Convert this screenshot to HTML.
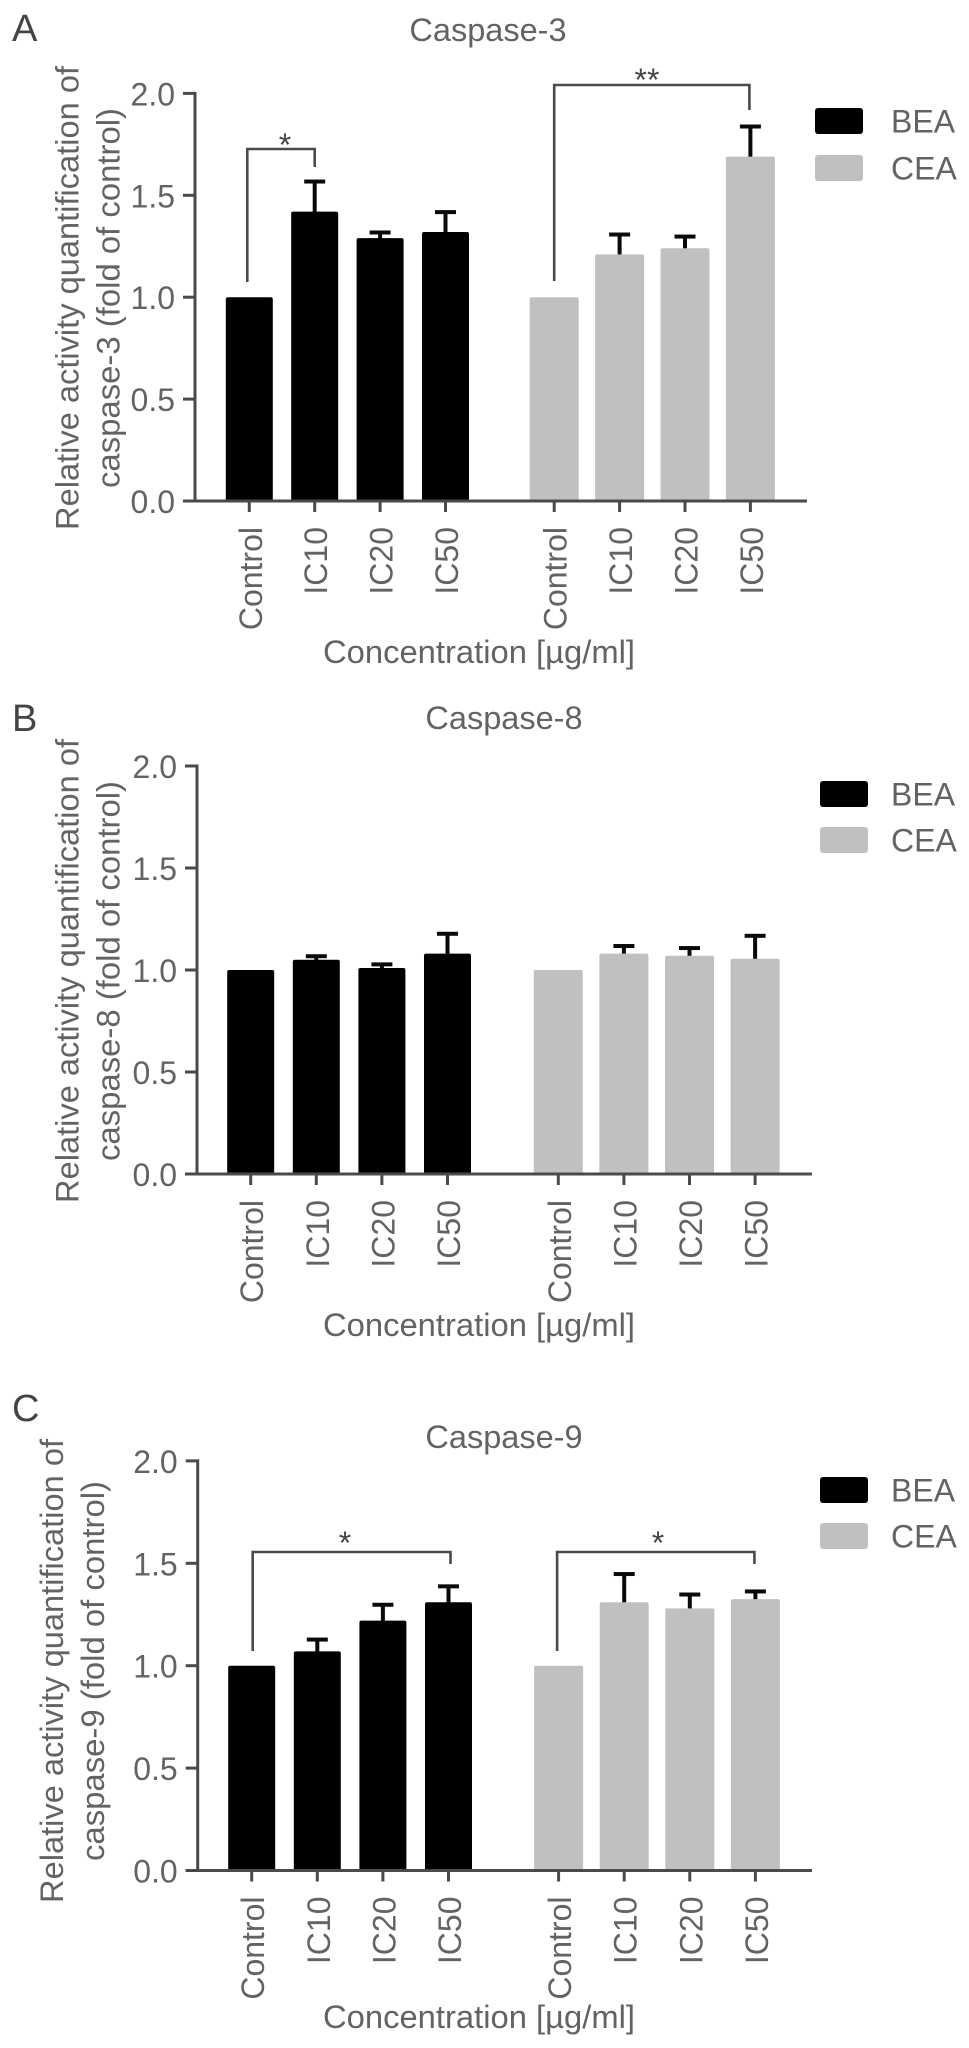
<!DOCTYPE html>
<html lang="en">
<head>
<meta charset="utf-8">
<title>Relative caspase activity in BEA and CEA treated cells</title>
<style>
html,body{margin:0;padding:0;background:#fff;}
body{width:969px;height:2048px;overflow:hidden;}
svg{display:block;}
text{font-family:"Liberation Sans",sans-serif;fill:#636363;}
</style>
</head>
<body>
<svg id="figure" width="969" height="2048" viewBox="0 0 969 2048" xmlns="http://www.w3.org/2000/svg"></svg>
<script>
// ---- chart data ----
const categories = ["Control", "IC10", "IC20", "IC50"];
const seriesNames = ["BEA", "CEA"];
const yTickValues = [0, 0.5, 1, 1.5, 2];
const yTickLabels = ["0.0", "0.5", "1.0", "1.5", "2.0"];

const caspase3Bea = [1.0, 1.42, 1.29, 1.32];
const caspase3BeaErr = [0, 0.15, 0.03, 0.10];
const caspase3Cea = [1.0, 1.21, 1.24, 1.69];
const caspase3CeaErr = [0, 0.10, 0.06, 0.15];

const caspase8Bea = [1.0, 1.05, 1.01, 1.08];
const caspase8BeaErr = [0, 0.02, 0.02, 0.10];
const caspase8Cea = [1.0, 1.08, 1.07, 1.055];
const caspase8CeaErr = [0, 0.04, 0.04, 0.115];

const caspase9Bea = [1.0, 1.07, 1.22, 1.31];
const caspase9BeaErr = [0, 0.06, 0.08, 0.08];
const caspase9Cea = [1.0, 1.31, 1.28, 1.325];
const caspase9CeaErr = [0, 0.14, 0.07, 0.04];

// ---- panel layout ----
const panels = [
  {key:"a", letter:"A", letterY:41, title:"Caspase-3", titleX:488, titleY:41,
   line1:"Relative activity quantification of", line2:"caspase-3 (fold of control)",
   y1:78.5, y2:119.5, yc:298, len1:464, len2:380,
   axisX:195, zeroY:501, unit:203.8, first:249.3, step:65.4, second:554.2, axisEnd:807,
   xTitleY:663, legendX:815, legendY1:108, legendY2:155,
   bea:caspase3Bea, beaErr:caspase3BeaErr, cea:caspase3Cea, ceaErr:caspase3CeaErr,
   brackets:[
     {g:0, from:0, to:1, dx1:-2, dx2:0, top:149, fromEnd:282, toEnd:167, stars:"*", starX:285, starBase:156},
     {g:1, from:0, to:3, dx1:0, dx2:-1, top:85, fromEnd:281, toEnd:110, stars:"**", starX:647, starBase:91}
   ]},
  {key:"b", letter:"B", letterY:731, title:"Caspase-8", titleX:504, titleY:729,
   line1:"Relative activity quantification of", line2:"caspase-8 (fold of control)",
   y1:78.5, y2:119.5, yc:971, len1:464, len2:380,
   axisX:197, zeroY:1174, unit:204, first:250.7, step:65.6, second:558.3, axisEnd:812,
   xTitleY:1336, legendX:820, legendY1:781, legendY2:827,
   bea:caspase8Bea, beaErr:caspase8BeaErr, cea:caspase8Cea, ceaErr:caspase8CeaErr,
   brackets:[]},
  {key:"c", letter:"C", letterY:1421, title:"Caspase-9", titleX:504, titleY:1448,
   line1:"Relative activity quantification of", line2:"caspase-9 (fold of control)",
   y1:63, y2:104, yc:1671, len1:464, len2:380,
   axisX:197.7, zeroY:1870.5, unit:204.8, first:251.7, step:65.6, second:558.6, axisEnd:812,
   xTitleY:2028, legendX:820, legendY1:1477, legendY2:1523,
   bea:caspase9Bea, beaErr:caspase9BeaErr, cea:caspase9Cea, ceaErr:caspase9CeaErr,
   brackets:[
     {g:0, from:0, to:3, dx1:1, dx2:2, top:1552, fromEnd:1651, toEnd:1564, stars:"*", starX:345, starBase:1554},
     {g:1, from:0, to:3, dx1:-1.5, dx2:-1, top:1552, fromEnd:1651, toEnd:1564, stars:"*", starX:658, starBase:1554}
   ]}
];

const svg = document.getElementById("figure");
const NS = "http://www.w3.org/2000/svg";

function make(parent, tag, attrs, content) {
  const node = document.createElementNS(NS, tag);
  for (const k in attrs) node.setAttribute(k, attrs[k]);
  if (content !== undefined) node.textContent = content;
  parent.appendChild(node);
  return node;
}

panels.forEach(function (p) {
  const yScale = function (v) { return p.zeroY - v * p.unit; };
  const xScale = function (g, i) { return (g === 0 ? p.first : p.second) + i * p.step; };
  const axisColor = "#4a4a4a";

  const group = make(svg, "g", {});
  
  

  const letter = make(group, "text", {x: 12, y: p.letterY, "font-size": 38, style: "fill:#444"}, p.letter);
  
  

  const title = make(group, "text", {x: p.titleX, y: p.titleY, "font-size": 32.5, "text-anchor": "middle"}, p.title);
  
  

  [p.line1, p.line2].forEach(function (line, idx) {
    const bx = idx === 0 ? p.y1 : p.y2;
    const len = idx === 0 ? p.len1 : p.len2;
    const yTitle = make(group, "text", {
      transform: "translate(" + bx + "," + p.yc + ") rotate(-90)",
      "font-size": 32, "text-anchor": "middle", textLength: len, lengthAdjust: "spacingAndGlyphs"
    }, line);
    
    
  });

  // bars and error bars
  [p.bea, p.cea].forEach(function (values, g) {
    const errs = g === 0 ? p.beaErr : p.ceaErr;
    const barW = g === 0 ? 47 : 49;
    values.forEach(function (v, i) {
      const cx = xScale(g, i);
      if (errs[i] > 0) {
        const top = yScale(v + errs[i]);
        const stem = make(group, "rect", {x: cx - 2, y: top, width: 4, height: yScale(v) - top + 2, fill: "#0a0a0a"});
        
        
        const cap = make(group, "rect", {x: cx - 10.5, y: top - 1.5, width: 21, height: 4, fill: "#0a0a0a"});
        
        
      }
      const bar = make(group, "rect", {
        x: cx - barW / 2, y: yScale(v), width: barW, height: p.zeroY - yScale(v),
        rx: 2, fill: g === 0 ? "#000000" : "#c0c0c0"
      });
      
      
    });
  });

  // y axis
  const yAxis = make(group, "line", {x1: p.axisX, x2: p.axisX, y1: yScale(2) - 1.5, y2: p.zeroY, stroke: axisColor, "stroke-width": 3});
  
  
  yTickValues.forEach(function (v, i) {
    const tick = make(group, "line", {x1: p.axisX - 12, x2: p.axisX, y1: yScale(v), y2: yScale(v), stroke: axisColor, "stroke-width": 3});
    
    
    const label = make(group, "text", {x: p.axisX - 20, y: yScale(v) + 12, "font-size": 32, "text-anchor": "end"}, yTickLabels[i]);
    
    
  });

  // x axis
  const xAxis = make(group, "line", {x1: p.axisX - 12, x2: p.axisEnd, y1: p.zeroY, y2: p.zeroY, stroke: axisColor, "stroke-width": 3});
  
  
  [0, 1].forEach(function (g) {
    categories.forEach(function (c, i) {
      const cx = xScale(g, i);
      const tick = make(group, "line", {x1: cx, x2: cx, y1: p.zeroY, y2: p.zeroY + 11, stroke: axisColor, "stroke-width": 3});
      
      
      const label = make(group, "text", {
        transform: "translate(" + (cx + 12.5) + "," + (p.zeroY + 26) + ") rotate(-90)",
        "font-size": 32, "text-anchor": "end"
      }, c);
      
      
    });
  });

  const xTitle = make(group, "text", {
    x: 479, y: p.xTitleY, "font-size": 32, "text-anchor": "middle",
    textLength: 312, lengthAdjust: "spacingAndGlyphs"
  }, "Concentration [\u00B5g/ml]");
  
  

  // significance brackets
  p.brackets.forEach(function (b) {
    const x1 = xScale(b.g, b.from) + b.dx1;
    const x2 = xScale(b.g, b.to) + b.dx2;
    const path = make(group, "path", {
      d: "M" + x1 + " " + b.fromEnd + "V" + b.top + "H" + x2 + "V" + b.toEnd,
      fill: "none", stroke: axisColor, "stroke-width": 2.6
    });
    
    
    const star = make(group, "text", {x: b.starX, y: b.starBase, "font-size": 32, "text-anchor": "middle", style: "fill:#444"}, b.stars);
    
    
  });

  // legend
  seriesNames.forEach(function (name, g) {
    const top = g === 0 ? p.legendY1 : p.legendY2;
    const swatch = make(group, "rect", {x: p.legendX, y: top, width: 48, height: 26, rx: 3, fill: g === 0 ? "#000000" : "#c0c0c0"});
    
    
    const label = make(group, "text", {x: 891, y: top + 24.5, "font-size": 32}, name);
    
    
  });
});
</script>
</body>
</html>
